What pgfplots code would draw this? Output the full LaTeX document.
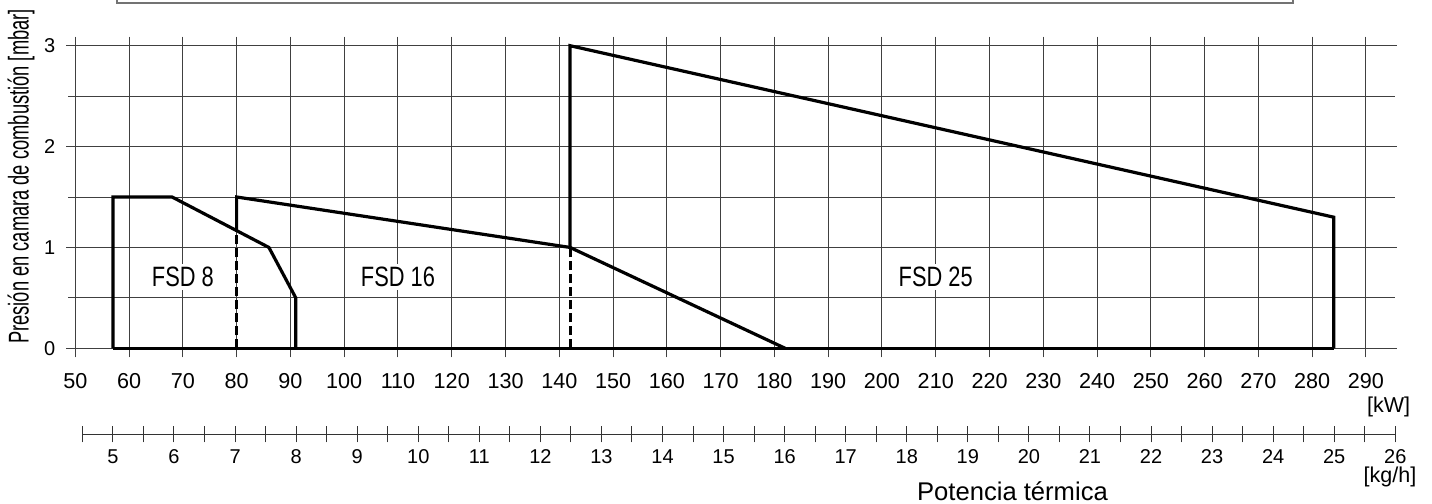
\documentclass[border=0pt]{standalone}
\usepackage{fontspec}
\setmainfont{Liberation Sans}
\newfontfamily\narrowfont{Liberation Sans}[FakeStretch=0.78]
\newfontfamily\ylabfont{Liberation Sans}[FakeStretch=0.64]
\usepackage{pgfplots}
\pgfplotsset{compat=1.18}
\begin{document}
\begin{tikzpicture}
\useasboundingbox (0,0) rectangle (716pt,-252pt);
% top frame (partly cut)
\draw[black!55, line width=0.9pt] (58.35pt,3pt) -- (58.35pt,-1.35pt) -- (646.5pt,-1.35pt) -- (646.5pt,3pt);
\begin{axis}[
  at={(37.65pt,-174.15pt)}, anchor=south west,
  scale only axis, width=656.1pt, height=151.3pt,
  xmin=50, xmax=294, ymin=0, ymax=3,
  xtick={50,60,...,290}, ytick={0,1,2,3}, minor ytick={0.5,1.5,2.5},
  grid=both,
  major grid style={black!75, line width=0.5pt},
  minor grid style={black!75, line width=0.5pt},
  axis line style={draw=none},
  tick align=outside, major tick length=4.5pt, minor tick length=3.5pt,
  tick style={black!75, line width=0.5pt},
  /pgf/number format/assume math mode=true,
  xticklabel style={font=\fontsize{10.8}{12}\selectfont, yshift=-4.5pt},
  yticklabel style={font=\fontsize{10}{12}\selectfont, xshift=-2pt},
  clip=false,
]
% FSD 8
\addplot[black, line width=1.6pt] coordinates {(57,0) (57,1.5) (68,1.5) (86,1) (91,0.5) (91,0)};
% FSD 16
\addplot[black, line width=1.6pt] coordinates {(80,1.167) (80,1.5) (142,1) (182,0)};
\addplot[black, line width=1.5pt, dash pattern=on 4.5pt off 2pt] coordinates {(80,0) (80,1.167)};
\addplot[black, line width=1.5pt, dash pattern=on 4.5pt off 2pt] coordinates {(142,0) (142,1)};
% FSD 25
\addplot[black, line width=1.6pt] coordinates {(142,1) (142,3) (284,1.3) (284,0)};
% base line
\addplot[black, line width=1.6pt] coordinates {(57,0) (284,0)};
\node[fill=white, inner sep=1.5pt, font=\narrowfont\fontsize{14}{14}\selectfont] at (axis cs:70,0.71) {FSD 8};
\node[fill=white, inner sep=1.5pt, font=\narrowfont\fontsize{14}{14}\selectfont] at (axis cs:110,0.71) {FSD 16};
\node[fill=white, inner sep=1.5pt, font=\narrowfont\fontsize{14}{14}\selectfont] at (axis cs:210,0.71) {FSD 25};
\end{axis}
\begin{axis}[
  at={(41.2pt,-217.15pt)}, anchor=south west,
  scale only axis, width=656.45pt, height=10pt,
  xmin=4.5, xmax=26, ymin=0, ymax=1,
  axis y line=none, axis x line*=bottom,
  xtick={5,6,...,26}, minor xtick={4.5,5.5,...,25.5},
  tick align=center, major tick length=8pt, minor tick length=8pt,
  tick style={black!80, line width=0.5pt},
  axis line style={black!80, line width=0.5pt},
  /pgf/number format/assume math mode=true,
  xticklabel style={font=\fontsize{10}{12}\selectfont},
]
\addplot[draw=none] coordinates {(5,0.5)};
\end{axis}
\node[anchor=east, inner sep=0pt, font=\fontsize{10.75}{12}\selectfont] at (705.3pt,-203.5pt) {[kW]};
\node[anchor=east, inner sep=0pt, font=\fontsize{10.75}{12}\selectfont] at (708.35pt,-238.5pt) {[kg/h]};
\node[anchor=base, inner sep=0pt, text depth=0pt, font=\fontsize{12.8}{14}\selectfont] at (506.25pt,-250pt) {Potencia térmica};
\node[rotate=90, font=\ylabfont\fontsize{14.3}{16}\selectfont] at (10.5pt,-88.25pt) {Presión en camara de combustión [mbar]};
\end{tikzpicture}
\end{document}
